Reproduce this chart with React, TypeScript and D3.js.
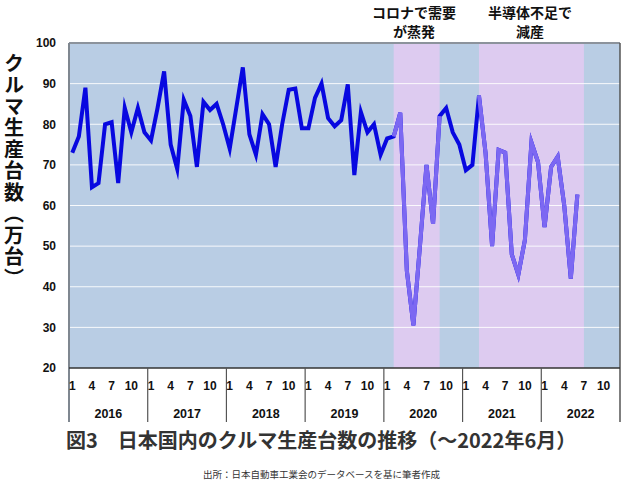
import React from "react";
import * as d3 from "d3";

const years = [2016, 2017, 2018, 2019, 2020, 2021, 2022];
const monthTicks = [1, 4, 7, 10];
const yTicks = [20, 30, 40, 50, 60, 70, 80, 90, 100];

// monthly production (万台), Jan 2016 – Jun 2022
const production = [
  73, 77, 89, 64.5, 65.5, 80, 80.5, 65.5, 84, 78, 84, 78,
  76, 84, 93, 75, 69, 86, 82, 69.5, 85.5, 83.5, 85, 80,
  74, 84, 94, 77.5, 72.5, 82.5, 80, 69.5, 80, 88.5, 88.8, 79,
  79, 86.5, 90, 81.5, 79.5, 81, 89.8, 67.5, 83, 78, 80, 72.5,
  76.5, 77, 82.8, 44, 30.5, 50, 70, 55.5, 82, 84, 78, 75,
  68.7, 70, 87, 73, 50, 73.7, 73, 48, 43, 51.5, 75.5, 70.7,
  54.7, 69.5, 72, 60, 42, 62.7,
];

// highlighted periods as [start index, end index] of months since Jan 2016
const bandStarts = [49, 62];
const bandEnds = [56, 78];
const annotations = [
  ["コロナで需要", "が蒸発"],
  ["半導体不足で", "減産"],
];
const annotationCenters = [414, 530];

const W = 630;
const H = 483;
const L = 69;
const R = 620;
const T = 43;
const B = 368;

const NUM = "'Liberation Sans', Arial, sans-serif";
const JP = "'Noto Sans CJK JP', 'Noto Sans', sans-serif";

export default function App() {
  const nMonths = years.length * 12;
  const x = d3
    .scaleBand<number>()
    .domain(d3.range(nMonths))
    .range([L, R])
    .padding(0);
  const cx = (i: number) => (x(i) as number) + x.bandwidth() / 2;
  const y = d3.scaleLinear().domain([20, 100]).range([B, T]);

  const data = production.map((v, i) => ({ i, v }));
  const line = d3
    .line<{ i: number; v: number }>()
    .x((d) => cx(d.i))
    .y((d) => y(d.v));

  const darkBlue = "#0808e0";
  const violet = "#7c68f2";

  return (
    <svg
      width={W}
      height={H}
      style={{ position: "absolute", left: 0, top: 0, background: "#fff" }}
    >
      <rect x={0} y={0} width={W} height={H} fill="#fff" />
      {/* plot background */}
      <rect x={L} y={T} width={R - L} height={B - T} fill="#b9cde4" />
      {bandStarts.map((s, k) => (
        <rect
          key={"band" + k}
          x={cx(s)}
          y={T}
          width={cx(bandEnds[k]) - cx(s)}
          height={B - T}
          fill="#ddcbf0"
        />
      ))}
      {/* gridlines */}
      {yTicks
        .filter((t) => t > 20 && t < 100)
        .map((t) => (
          <line
            key={"g" + t}
            x1={L}
            x2={R}
            y1={y(t)}
            y2={y(t)}
            stroke="#ffffff"
            strokeWidth={1}
            opacity={0.9}
          />
        ))}
      {/* frame */}
      <line x1={L} x2={R} y1={T} y2={T} stroke="#8c939c" strokeWidth={2} />
      <line x1={L} x2={L} y1={T} y2={422} stroke="#7f8790" strokeWidth={2} />
      <line x1={R} x2={R} y1={T} y2={422} stroke="#555" strokeWidth={1.5} />
      <line x1={L} x2={R} y1={B} y2={B} stroke="#333" strokeWidth={1.5} />
      {years.map((yr, k) =>
        k === 0 ? null : (
          <line
            key={"ys" + yr}
            x1={x(k * 12) as number}
            x2={x(k * 12) as number}
            y1={B}
            y2={422}
            stroke="#555"
            strokeWidth={1.2}
          />
        )
      )}
      {/* line: dark full, violet overlay on highlighted periods */}
      <path
        d={line(data) || ""}
        fill="none"
        stroke={darkBlue}
        strokeWidth={4}
        strokeLinejoin="miter"
        strokeMiterlimit={6}
      />
      {bandStarts.map((s, k) => (
        <path
          key={"vl" + k}
          d={
            line(
              data.filter((d) => d.i >= s && d.i <= Math.min(bandEnds[k], production.length - 1))
            ) || ""
          }
          fill="none"
          stroke={violet}
          strokeWidth={4}
          strokeLinejoin="miter"
          strokeMiterlimit={6}
        />
      ))}
      {/* y tick labels */}
      {yTicks.map((t) => (
        <text
          key={"yt" + t}
          x={56}
          y={y(t)}
          dy="0.36em"
          textAnchor="end"
          fontFamily={NUM}
          fontWeight="bold"
          fontSize={12}
          fill="#111"
        >
          {t}
        </text>
      ))}
      {/* x month labels */}
      {years.map((yr, k) =>
        monthTicks.map((m) => (
          <text
            key={"mt" + yr + m}
            x={cx(k * 12 + m - 1)}
            y={386}
            dy="0.36em"
            textAnchor="middle"
            fontFamily={NUM}
            fontWeight="bold"
            fontSize={12}
            fill="#111"
          >
            {m}
          </text>
        ))
      )}
      {/* year labels */}
      {years.map((yr, k) => (
        <text
          key={"yr" + yr}
          x={((x(k * 12) as number) + (x(k * 12 + 11) as number) + x.bandwidth()) / 2}
          y={413}
          dy="0.36em"
          textAnchor="middle"
          fontFamily={NUM}
          fontWeight="bold"
          fontSize={12.5}
          fill="#111"
        >
          {yr}
        </text>
      ))}
      {/* y axis title (vertical) */}
      <text
        x={14}
        y={53}
        fontFamily={JP}
        fontWeight="bold"
        fontSize={20}
        letterSpacing={1.5}
        fill="#111"
        style={{ writingMode: "vertical-rl" } as any}
      >
        クルマ生産台数（万台）
      </text>
      {/* annotations */}
      {annotations.map((lines, k) =>
        lines.map((s, j) => (
          <text
            key={"an" + k + j}
            x={annotationCenters[k]}
            y={13 + j * 19}
            dy="0.36em"
            textAnchor="middle"
            fontFamily={JP}
            fontWeight="bold"
            fontSize={14}
            fill="#111"
          >
            {s}
          </text>
        ))
      )}
      {/* title */}
      <text
        x={66}
        y={441}
        dy="0.36em"
        fontFamily={JP}
        fontWeight="bold"
        fontSize={20}
        fill="#333"
      >
        図3　日本国内のクルマ生産台数の推移（～2022年6月）
      </text>
      {/* source */}
      <text
        x={203}
        y={475}
        dy="0.36em"
        fontFamily={JP}
        fontSize={9.5}
        fill="#333"
      >
        出所：日本自動車工業会のデータベースを基に筆者作成
      </text>
    </svg>
  );
}
